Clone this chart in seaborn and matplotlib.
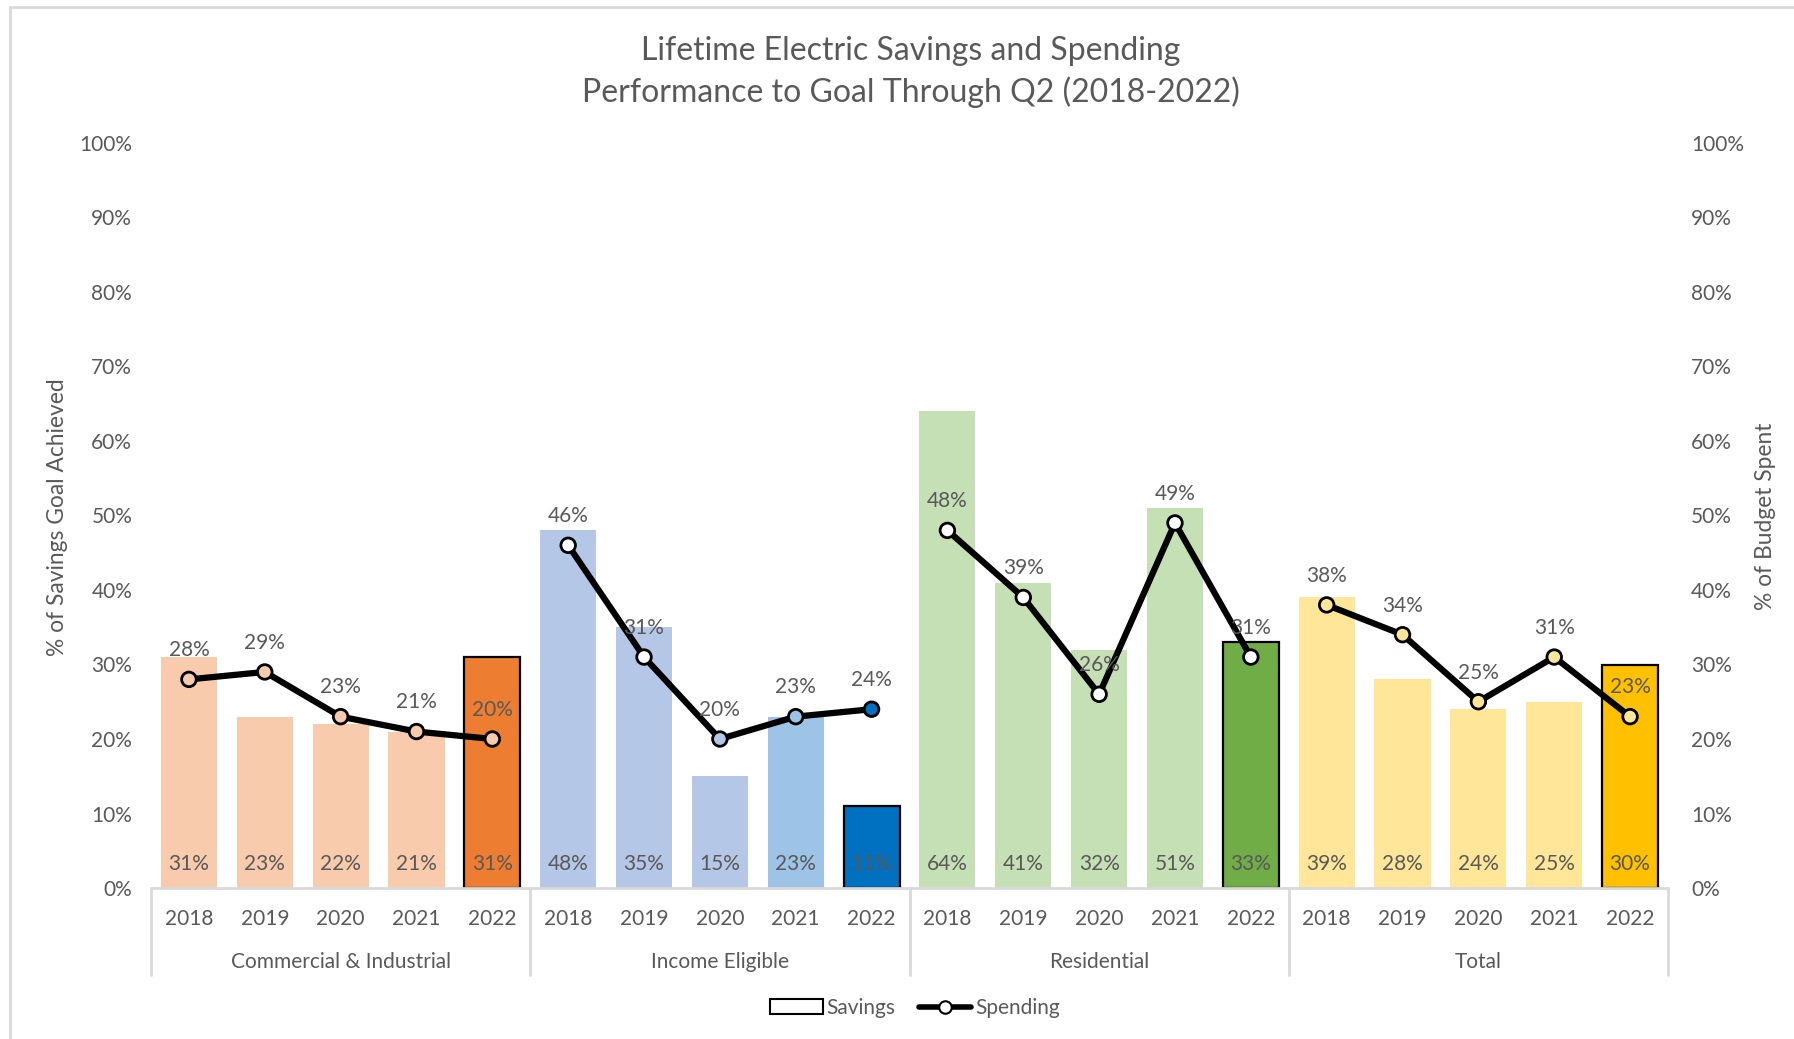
import matplotlib
matplotlib.use("Agg")
import matplotlib.pyplot as plt
from matplotlib.lines import Line2D
from matplotlib.patches import Patch
import matplotlib.transforms as mtransforms
import numpy as np
import pandas as pd
import seaborn as sns

# ---- data -------------------------------------------------------------
groups = ["Commercial & Industrial", "Income Eligible", "Residential", "Total"]
years = ["2018", "2019", "2020", "2021", "2022"]

savings_ci = [0.31, 0.23, 0.22, 0.21, 0.31]
savings_ie = [0.48, 0.35, 0.15, 0.23, 0.11]
savings_res = [0.64, 0.41, 0.32, 0.51, 0.33]
savings_tot = [0.39, 0.28, 0.24, 0.25, 0.30]

spending_ci = [0.28, 0.29, 0.23, 0.21, 0.20]
spending_ie = [0.46, 0.31, 0.20, 0.23, 0.24]
spending_res = [0.48, 0.39, 0.26, 0.49, 0.31]
spending_tot = [0.38, 0.34, 0.25, 0.31, 0.23]

y_ticks = [0.0, 0.1, 0.2, 0.3, 0.4, 0.5, 0.6, 0.7, 0.8, 0.9, 1.0]

# ---- styling ----------------------------------------------------------
bar_colors = (["#F8CBAD"] * 4 + ["#ED7D31"]
              + ["#B4C7E7"] * 3 + ["#9DC3E6", "#0070C0"]
              + ["#C5E0B4"] * 4 + ["#70AD47"]
              + ["#FFE699"] * 4 + ["#FFC000"])
marker_colors = (["#F8CBAD"] * 5
                 + ["#FFFFFF", "#FFFFFF", "#B4C7E7", "#9DC3E6", "#0070C0"]
                 + ["#FFFFFF"] * 5
                 + ["#FFE699"] * 5)
TXT = "#595959"
AXLINE = "#D9D9D9"
FS = 15

sns.set_theme(style="white")
plt.rcParams["font.family"] = ["Lato", "DejaVu Sans"]

savings = savings_ci + savings_ie + savings_res + savings_tot
spending = spending_ci + spending_ie + spending_res + spending_tot
df = pd.DataFrame({
    "slot": list(range(len(groups) * len(years))),
    "group": [g for g in groups for _ in years],
    "year": years * len(groups),
    "savings": savings,
    "spending": spending,
})

fig = plt.figure(figsize=(17.94, 10.39), dpi=100)
W, H = 1794, 1039
ax = fig.add_axes([151 / W, 1 - 888 / H, (1668 - 151) / W, (888 - 143) / H])

pal = {s: c for s, c in zip(df["slot"], bar_colors)}
sns.barplot(data=df, x="slot", y="savings", hue="slot", palette=pal,
            legend=False, width=0.74, saturation=1, ax=ax, linewidth=0)

# outline the 2022 bars
for p in ax.patches:
    xc = p.get_x() + p.get_width() / 2
    idx = int(round(xc))
    if df.loc[idx, "year"] == "2022":
        p.set_edgecolor("black")
        p.set_linewidth(1.6)

ax.set_xlim(-0.5, 19.5)
ax.set_ylim(0, 1)
ax.set_yticks(y_ticks)
ax.set_yticklabels([f"{int(round(v * 100))}%" for v in y_ticks])
ax.set_xticks(df["slot"])
ax.set_xticklabels(df["year"])
ax.tick_params(axis="x", length=0, pad=15, labelsize=FS, labelcolor=TXT)
ax.tick_params(axis="y", length=0, pad=13.5, labelsize=FS, labelcolor=TXT)
ax.set_xlabel("")
ax.set_ylabel("")
for s in ax.spines.values():
    s.set_visible(False)

# bar value labels near the base
for _, r in df.iterrows():
    ax.annotate(f"{int(round(r.savings * 100))}%", (r.slot, 0),
                xytext=(0, 17), textcoords="offset points",
                ha="center", va="center", fontsize=FS, color=TXT)

# multi-level category axis
trans = mtransforms.blended_transform_factory(ax.transData, ax.transAxes)
ax.plot([-0.5, 19.5], [0, 0], color=AXLINE, lw=2, transform=trans,
        clip_on=False, zorder=5)
for b in [-0.5, 4.5, 9.5, 14.5, 19.5]:
    ax.plot([b, b], [0, -0.1168], color=AXLINE, lw=2, transform=trans,
            clip_on=False)
for gi, g in enumerate(groups):
    ax.text(gi * 5 + 2, -0.0995, g, transform=trans, ha="center",
            va="center", fontsize=FS, color=TXT)

# spending line on the secondary axis
ax2 = ax.twinx()
for gi, g in enumerate(groups):
    sub = df[df["group"] == g]
    sns.lineplot(data=sub, x="slot", y="spending", color="black", lw=4.5,
                 ax=ax2, legend=False, zorder=3)
mpal = {s: c for s, c in zip(df["slot"], marker_colors)}
sns.scatterplot(data=df, x="slot", y="spending", hue="slot", palette=mpal,
                s=110, edgecolor="black", linewidth=2, legend=False,
                ax=ax2, zorder=4)
for _, r in df.iterrows():
    ax2.annotate(f"{int(round(r.spending * 100))}%", (r.slot, r.spending),
                 xytext=(0, 21), textcoords="offset points",
                 ha="center", va="center", fontsize=FS, color=TXT)

ax2.set_xlim(-0.5, 19.5)
ax2.set_ylim(0, 1)
ax2.set_yticks(y_ticks)
ax2.set_yticklabels([f"{int(round(v * 100))}%" for v in y_ticks])
ax2.tick_params(axis="y", length=0, pad=16.5, labelsize=FS, labelcolor=TXT)
ax2.set_xlabel("")
ax2.set_ylabel("")
for s in ax2.spines.values():
    s.set_visible(False)

# axis titles
fig.text(57 / W, 1 - 517 / H, "% of Savings Goal Achieved", rotation=90,
         ha="center", va="center", fontsize=16.4, color=TXT)
fig.text(1765 / W, 1 - 516 / H, "% of Budget Spent", rotation=90,
         ha="center", va="center", fontsize=16.4, color=TXT)

# title
fig.text(911 / W, 1 - 51 / H, "Lifetime Electric Savings and Spending",
         ha="center", va="center", fontsize=23, color=TXT)
fig.text(911 / W, 1 - 92 / H, "Performance to Goal Through Q2 (2018-2022)",
         ha="center", va="center", fontsize=23, color=TXT)

# legend
handles = [
    Patch(facecolor="white", edgecolor="black", linewidth=1.5, label="Savings"),
    Line2D([0], [0], color="black", lw=4, marker="o", markersize=9,
           markerfacecolor="white", markeredgecolor="black",
           markeredgewidth=1.5, label="Spending"),
]
fig.legend(handles=handles, loc="center", bbox_to_anchor=(915 / W, 1 - 1008 / H),
           ncol=2, frameon=False, fontsize=FS, handlelength=2.5,
           handletextpad=0.2, columnspacing=1.1, labelcolor=TXT)

# chart frame (left and top edges)
fig.add_artist(Line2D([10 / W, 10 / W], [0, 1 - 7 / H], color=AXLINE, lw=2,
                      transform=fig.transFigure))
fig.add_artist(Line2D([10 / W, 1], [1 - 7 / H, 1 - 7 / H], color=AXLINE, lw=2,
                      transform=fig.transFigure))

fig.savefig("out.png", dpi=100, facecolor="white")
